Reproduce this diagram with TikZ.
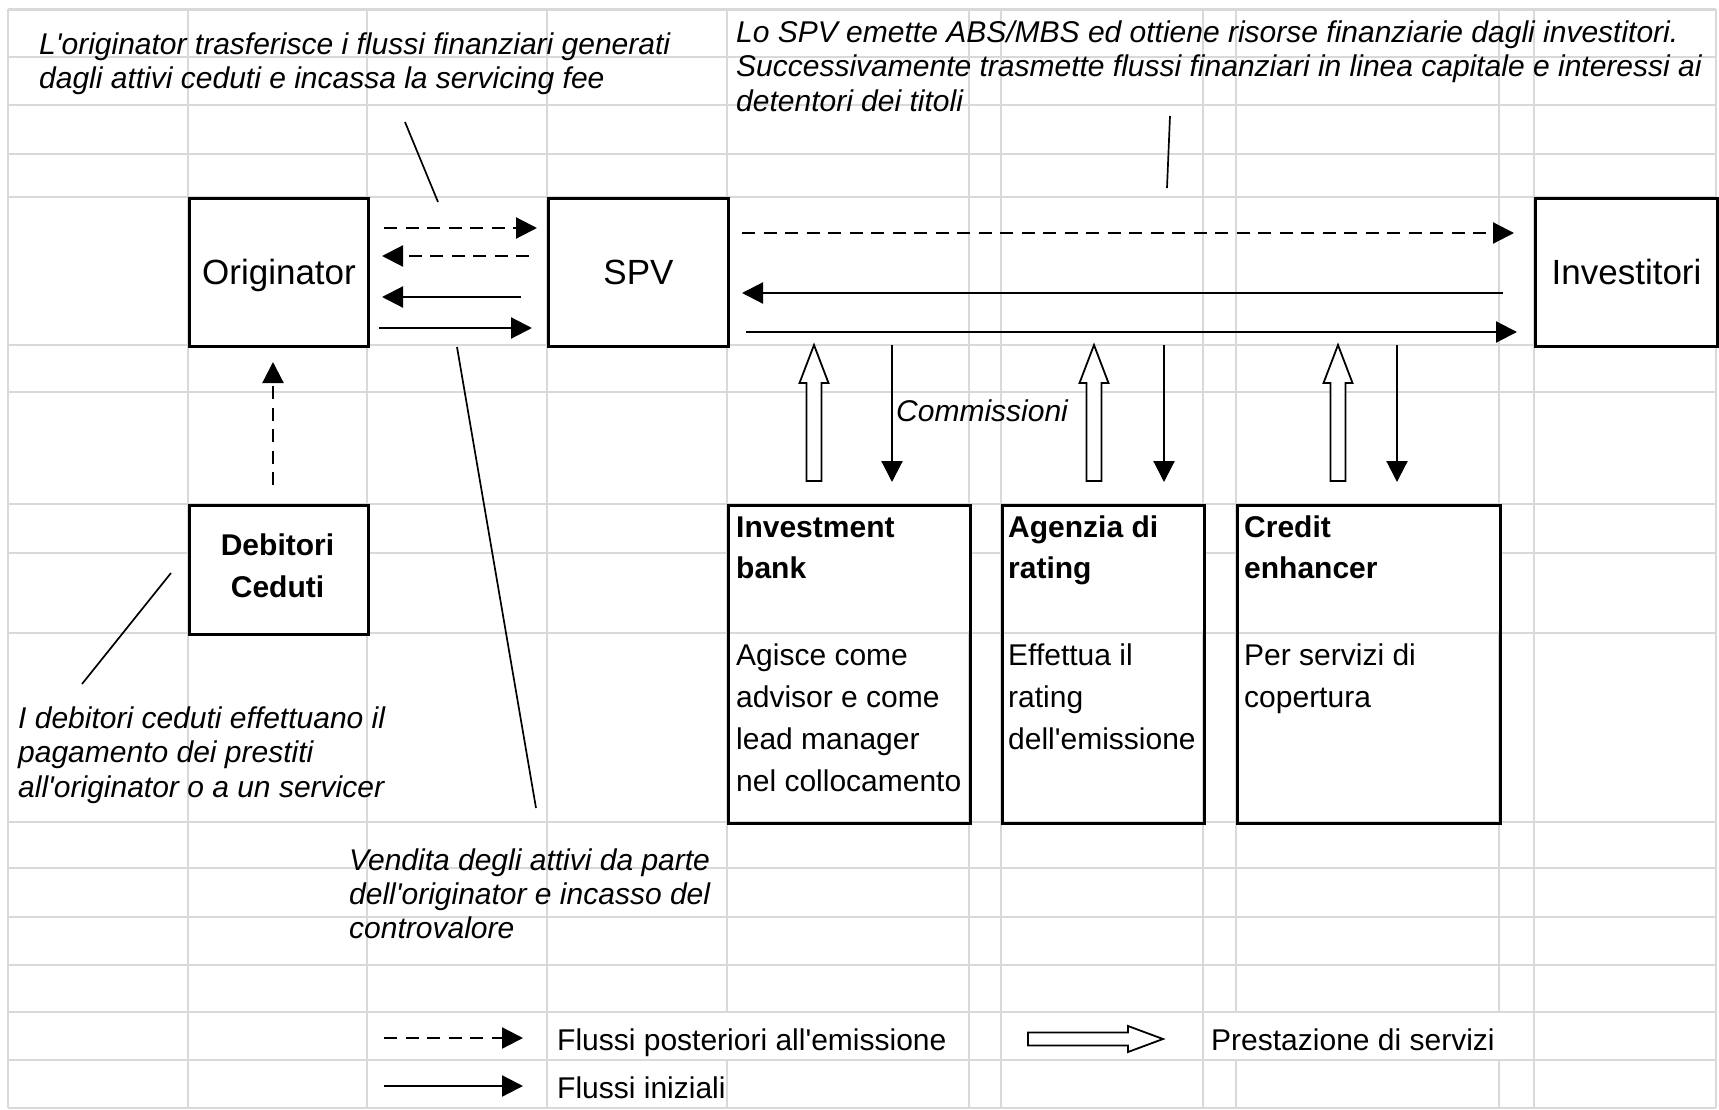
\documentclass[tikz,border=0pt]{standalone}
\usepackage{fontspec}
\setmainfont{Liberation Sans}
\usetikzlibrary{arrows.meta,calc}
\newcommand\txtsmall{\fontsize{30}{34}\selectfont}
\newcommand\txtbig{\fontsize{35}{40}\selectfont}
\newcommand\ap{\textquotesingle}
\definecolor{gridgray}{RGB}{217,217,217}
\begin{document}
\begin{tikzpicture}[x=1pt,y=-1pt,
  gridline/.style={draw=gridgray,line width=2.8pt},
  box/.style={draw=black,line width=3pt,inner sep=0pt,anchor=north west},
  mainbox/.style={box,fill=white,font=\txtbig,text height=24pt,text depth=0pt},
  flow/.style={line width=2.2pt,-{Triangle[length=21pt,width=21pt]}},
  later/.style={flow,dash pattern=on 13pt off 8.5pt},
  lead/.style={line width=1.7pt},
  hollow/.style={draw=black,fill=white,line width=1.8pt,line join=miter},
  lbl/.style={anchor=base west,inner sep=0pt,font=\txtsmall},
  ital/.style={lbl,font=\txtsmall\itshape},
  bld/.style={lbl,font=\txtsmall\bfseries},
]
\useasboundingbox (0,0) rectangle (1719,1110);
\fill[white] (0,0) rectangle (1719,1110);

% spreadsheet grid
\foreach \x in {8,188,367,547,969,1001,1203,1534,1716}
  \draw[gridline] (\x,9.5) -- (\x,1108);
\foreach \x in {727,1236,1499} {
  \draw[gridline] (\x,9.5) -- (\x,1012);
  \draw[gridline] (\x,1060) -- (\x,1108);
}
\foreach \y in {9.5,57,105,154,197,345,392,504,553,633,822,868,917,965,1012,1060,1108}
  \draw[gridline] (8,\y) -- (1716,\y);

% merged title cells of the service boxes
\fill[white] (727,504) rectangle (969,631.4);
\fill[white] (1001,504) rectangle (1203,631.4);
\fill[white] (1236,504) rectangle (1499,631.4);

% main parties
\node[mainbox,minimum width=179pt,minimum height=148pt] (orig) at (188,197) {Originator};
\node[mainbox,minimum width=180pt,minimum height=148pt] (spv) at (547,197) {SPV};
\node[mainbox,minimum width=182pt,minimum height=148pt] (inv) at (1534,197) {Investitori};
\node[box,fill=white,minimum width=179pt,minimum height=129pt] (deb) at (188,504) {};
\node[box,minimum width=242pt,minimum height=318pt] (ib) at (727,504) {};
\node[box,minimum width=202pt,minimum height=318pt] (ag) at (1001,504) {};
\node[box,minimum width=263pt,minimum height=318pt] (ce) at (1236,504) {};

% flows between originator and SPV
\coordinate (a1s) at (384,228);  \coordinate (a1e) at (537,228);
\coordinate (a2s) at (529,256);  \coordinate (a2e) at (382,256);
\coordinate (a3s) at (521,297);  \coordinate (a3e) at (382,297);
\coordinate (a4s) at (379,328);  \coordinate (a4e) at (532,328);
\draw[later] (a1s) -- (a1e);
\draw[later] (a2s) -- (a2e);
\draw[flow] (a3s) -- (a3e);
\draw[flow] (a4s) -- (a4e);

% flows between SPV and investors
\coordinate (b1s) at (742,233);  \coordinate (b1e) at (1514,233);
\coordinate (b2s) at (1503,293); \coordinate (b2e) at (742,293);
\coordinate (b3s) at (746,332);  \coordinate (b3e) at (1517,332);
\draw[later] (b1s) -- (b1e);
\draw[flow] (b2s) -- (b2e);
\draw[flow] (b3s) -- (b3e);

% payments of the assigned debtors
\coordinate (c1s) at (273,485); \coordinate (c1e) at (273,362);
\draw[later] (c1s) -- (c1e);

% services (hollow) and fees (solid) for the three service providers
\foreach \n/\xs/\xc in {ib/814/892,ag/1094/1164,ce/1338/1397} {
  \coordinate (svb-\n) at (\xs,481);
  \coordinate (svt-\n) at (\xs,345);
  \coordinate (fes-\n) at (\xc,345);
  \coordinate (fee-\n) at (\xc,482);
  \draw[hollow] ($(svb-\n)+(-7.5,0)$) -- ($(svt-\n)+(-7.5,38)$) -- ($(svt-\n)+(-14.5,38)$)
    -- (svt-\n) -- ($(svt-\n)+(14.5,38)$) -- ($(svt-\n)+(7.5,38)$) -- ($(svb-\n)+(7.5,0)$) -- cycle;
  \draw[flow] (fes-\n) -- (fee-\n);
}

% leader lines of the annotations
\coordinate (l1s) at (405,122);  \coordinate (l1e) at (438,202);
\coordinate (l2s) at (457,347);  \coordinate (l2e) at (536,808);
\coordinate (l3s) at (171,573);  \coordinate (l3e) at (82,684);
\coordinate (l4s) at (1170,116); \coordinate (l4e) at (1167,188);
\draw[lead] (l1s) -- (l1e);
\draw[lead] (l2s) -- (l2e);
\draw[lead] (l3s) -- (l3e);
\draw[lead] (l4s) -- (l4e);

% annotations
\node[ital] (n1a) at (39,55) {L\ap originator trasferisce i flussi finanziari generati};
\node[ital] (n1b) at (39,89) {dagli attivi ceduti e incassa la servicing fee};
\node[ital] (n2a) at (736,43) {Lo SPV emette ABS/MBS ed ottiene risorse finanziarie dagli investitori.};
\node[ital] (n2b) at (736,77) {Successivamente trasmette flussi finanziari in linea capitale e interessi ai};
\node[ital] (n2c) at (736,112) {detentori dei titoli};
\node[ital] (comm) at (896,421) {Commissioni};
\node[ital] (n3a) at (18,728) {I debitori ceduti effettuano il};
\node[ital] (n3b) at (18,762) {pagamento dei prestiti};
\node[ital] (n3c) at (18,797) {all\ap originator o a un servicer};
\node[ital] (n4a) at (349,870) {Vendita degli attivi da parte};
\node[ital] (n4b) at (349,904) {dell\ap originator e incasso del};
\node[ital] (n4c) at (349,938) {controvalore};

% box contents
\node[bld,anchor=base] (deb1) at (277.5,555) {Debitori};
\node[bld,anchor=base] (deb2) at (277.5,597) {Ceduti};

\node[bld] (ib1) at (736,537) {Investment};
\node[bld] (ib2) at (736,578) {bank};
\node[lbl] (ib3) at (736,665) {Agisce come};
\node[lbl] (ib4) at (736,707) {advisor e come};
\node[lbl] (ib5) at (736,749) {lead manager};
\node[lbl] (ib6) at (736,791) {nel collocamento};

\node[bld] (ag1) at (1008,537) {Agenzia di};
\node[bld] (ag2) at (1008,578) {rating};
\node[lbl] (ag3) at (1008,665) {Effettua il};
\node[lbl] (ag4) at (1008,707) {rating};
\node[lbl] (ag5) at (1008,749) {dell\ap emissione};

\node[bld] (ce1) at (1244,537) {Credit};
\node[bld] (ce2) at (1244,578) {enhancer};
\node[lbl] (ce3) at (1244,665) {Per servizi di};
\node[lbl] (ce4) at (1244,707) {copertura};

% legend
\coordinate (k1s) at (384,1038); \coordinate (k1e) at (523,1038);
\coordinate (k2s) at (384,1086); \coordinate (k2e) at (523,1086);
\coordinate (k3s) at (1028,1039); \coordinate (k3e) at (1163,1039);
\draw[later] (k1s) -- (k1e);
\draw[flow] (k2s) -- (k2e);
\draw[hollow] ($(k3s)+(0,-6.5)$) -- ($(k3e)+(-35,-6.5)$) -- ($(k3e)+(-35,-13)$) -- (k3e)
  -- ($(k3e)+(-35,13)$) -- ($(k3e)+(-35,6.5)$) -- ($(k3s)+(0,6.5)$) -- cycle;
\node[lbl] (k1t) at (557,1050) {Flussi posteriori all\ap emissione};
\node[lbl] (k2t) at (557,1098) {Flussi iniziali};
\node[lbl] (k3t) at (1211,1050) {Prestazione di servizi};
\end{tikzpicture}
\end{document}
